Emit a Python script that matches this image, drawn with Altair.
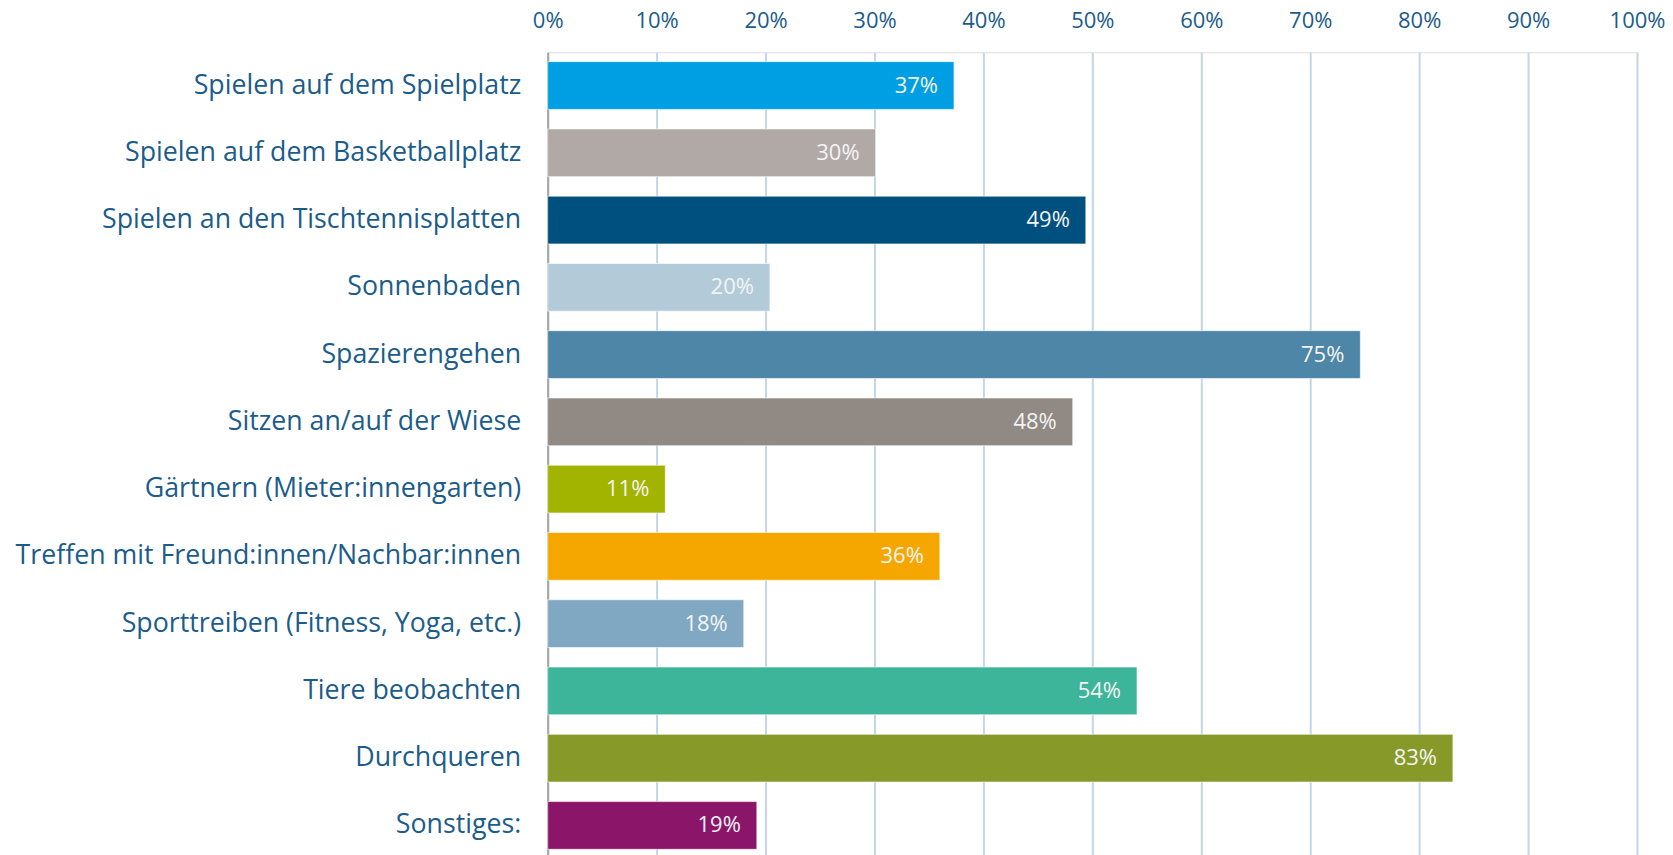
import altair as alt
import pandas as pd

categories = [
    "Spielen auf dem Spielplatz",
    "Spielen auf dem Basketballplatz",
    "Spielen an den Tischtennisplatten",
    "Sonnenbaden",
    "Spazierengehen",
    "Sitzen an/auf der Wiese",
    "Gärtnern (Mieter:innengarten)",
    "Treffen mit Freund:innen/Nachbar:innen",
    "Sporttreiben (Fitness, Yoga, etc.)",
    "Tiere beobachten",
    "Durchqueren",
    "Sonstiges:",
]
values = [0.373, 0.301, 0.494, 0.204, 0.746, 0.482, 0.108, 0.360, 0.180, 0.541, 0.831, 0.192]
colors = [
    "#009FE3", "#B1A9A6", "#00507F", "#B3CBD9", "#4D86A7", "#918983",
    "#A2B300", "#F5A700", "#80A8C2", "#3DB59B", "#879A29", "#8B1569",
]
x_ticks = [0, 0.1, 0.2, 0.3, 0.4, 0.5, 0.6, 0.7, 0.8, 0.9, 1.0]

df = pd.DataFrame({"cat": categories, "val": values, "col": colors})

FONT = "Open Sans"
TXT = "#1B5C8B"

y_enc = alt.Y(
    "cat:N",
    sort=categories,
    title=None,
    scale=alt.Scale(paddingInner=0.29, paddingOuter=0.14),
    axis=alt.Axis(
        labelFont=FONT, labelFontSize=26.75, labelColor=TXT, labelPadding=27,
        ticks=False, tickSize=0, domain=True, domainColor="#A6A6A6", domainWidth=2,
        labelLimit=700,
    ),
)
x_enc = alt.X(
    "val:Q",
    title=None,
    scale=alt.Scale(domain=[0, 1], nice=False),
    axis=alt.Axis(
        orient="top", values=x_ticks, format=".0%", labelFont=FONT, labelFontSize=22,
        labelColor=TXT, labelPadding=20, ticks=False, tickSize=0, domain=False,
        labelFlush=False, grid=True, gridColor="#C3D6E5", gridWidth=2,
    ),
)

bars = alt.Chart(df).mark_bar(stroke="#FFFFFF", strokeWidth=1, strokeOpacity=0.6).encode(
    y=y_enc,
    x=x_enc,
    color=alt.Color("col:N", scale=None, legend=None),
)

labels = alt.Chart(df).mark_text(
    align="right", baseline="middle", dx=-16, color="#F4F4F4", font=FONT, fontSize=22
).encode(
    y=alt.Y("cat:N", sort=categories),
    x=alt.X("val:Q"),
    text=alt.Text("val:Q", format=".0%"),
)

chart = (
    alt.layer(bars, labels)
    .properties(width=1090, height=807)
    .configure_view(stroke=None)
    .configure(padding={"top": 1, "left": 6, "right": 0, "bottom": 0}, background="white")
)

chart.save("out.html", embed_options={"renderer": "svg", "actions": False})
